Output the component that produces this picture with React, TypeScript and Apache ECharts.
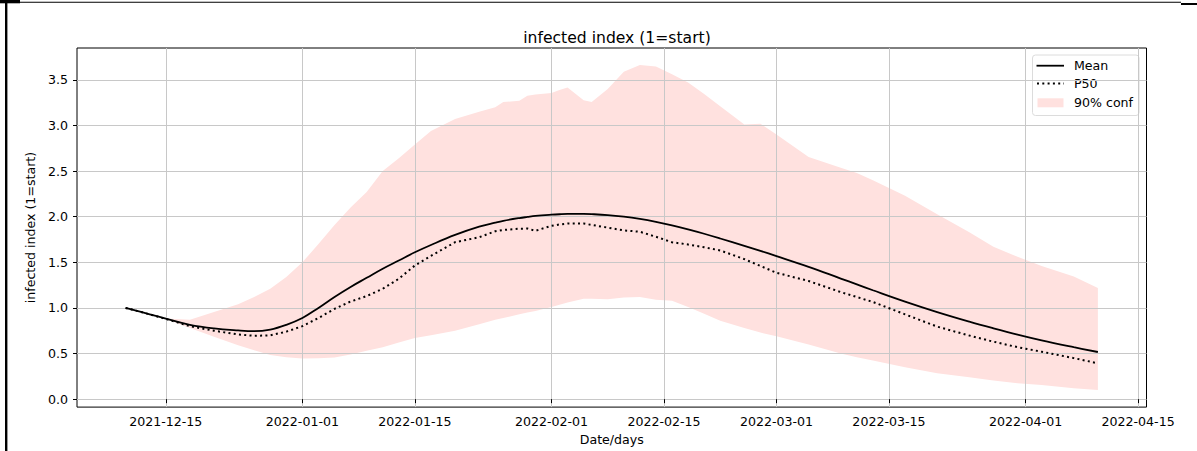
import React, { useEffect, useRef } from 'react';
import * as echarts from 'echarts';

// ---- data ----
const dates = [
  '2021-12-10', '2021-12-13', '2021-12-15', '2021-12-18', '2021-12-21', '2021-12-24', '2021-12-26', '2021-12-28',
  '2021-12-30', '2022-01-01', '2022-01-03', '2022-01-05', '2022-01-07', '2022-01-09', '2022-01-11', '2022-01-13',
  '2022-01-15', '2022-01-17', '2022-01-20', '2022-01-23', '2022-01-25', '2022-01-26', '2022-01-28', '2022-01-29',
  '2022-01-30', '2022-02-01', '2022-02-02', '2022-02-03', '2022-02-05', '2022-02-06', '2022-02-08', '2022-02-10',
  '2022-02-12', '2022-02-14', '2022-02-16', '2022-02-18', '2022-02-20', '2022-02-22', '2022-02-25', '2022-02-27',
  '2022-03-01', '2022-03-05', '2022-03-09', '2022-03-11', '2022-03-13', '2022-03-17', '2022-03-21', '2022-03-25',
  '2022-03-28', '2022-03-31', '2022-04-03', '2022-04-07', '2022-04-10',
];

const meanValues = [
  1.0, 0.93, 0.883, 0.815, 0.775, 0.753, 0.745, 0.763,
  0.815, 0.89, 1.0, 1.12, 1.23, 1.33, 1.43, 1.52,
  1.61, 1.69, 1.8, 1.89, 1.935, 1.955, 1.985, 1.997,
  2.008, 2.022, 2.027, 2.03, 2.03, 2.028, 2.018, 2.0,
  1.975, 1.943, 1.905, 1.861, 1.813, 1.761, 1.68, 1.625,
  1.568, 1.45, 1.322, 1.258, 1.194, 1.07, 0.955, 0.85,
  0.777, 0.708, 0.645, 0.57, 0.517,
];

const p50Values = [
  1.0, 0.93, 0.88, 0.8, 0.75, 0.71, 0.694, 0.7,
  0.74, 0.8, 0.89, 0.99, 1.07, 1.13, 1.21, 1.32,
  1.465, 1.57, 1.72, 1.775, 1.84, 1.855, 1.868, 1.87,
  1.846, 1.9, 1.915, 1.925, 1.925, 1.91, 1.88, 1.85,
  1.835, 1.78, 1.72, 1.695, 1.665, 1.63, 1.535, 1.46,
  1.385, 1.295, 1.174, 1.12, 1.065, 0.93, 0.795, 0.697,
  0.63, 0.57, 0.52, 0.45, 0.393,
];

const confLower = [
  1.0, 0.935, 0.88, 0.78, 0.685, 0.59, 0.535, 0.483,
  0.46, 0.447, 0.448, 0.458, 0.49, 0.53, 0.57, 0.62,
  0.67, 0.7, 0.75, 0.82, 0.87, 0.89, 0.93, 0.95,
  0.965, 1.01, 1.035, 1.06, 1.1, 1.1, 1.094, 1.115,
  1.12, 1.09, 1.08, 1.01, 0.935, 0.86, 0.78, 0.73,
  0.69, 0.6, 0.5, 0.46, 0.425, 0.35, 0.284, 0.24,
  0.205, 0.175, 0.155, 0.12, 0.1,
];

const confUpper = [
  1.0, 0.935, 0.885, 0.87, 0.955, 1.04, 1.12, 1.21,
  1.34, 1.5, 1.7, 1.91, 2.1, 2.27, 2.5, 2.64,
  2.79, 2.94, 3.07, 3.15, 3.2, 3.257, 3.27, 3.325,
  3.34, 3.355, 3.39, 3.416, 3.275, 3.257, 3.4, 3.59,
  3.664, 3.645, 3.56, 3.47, 3.345, 3.21, 3.01, 3.02,
  2.9, 2.655, 2.537, 2.48, 2.4, 2.23, 2.028, 1.83,
  1.67, 1.56, 1.46, 1.345, 1.218,
];

const xTickDates = [
  '2021-12-15', '2022-01-01', '2022-01-15', '2022-02-01', '2022-02-15',
  '2022-03-01', '2022-03-15', '2022-04-01', '2022-04-15',
];
const yTicks = [0, 0.5, 1.0, 1.5, 2.0, 2.5, 3.0, 3.5];

const titleText = 'infected index (1=start)';
const yAxisTitle = 'infected index (1=start)';
const xAxisTitle = 'Date/days';
const legendNames = ['Mean', 'P50', '90% conf'];

// ---- helpers ----
const toTs = (s: string) => {
  const [y, m, d] = s.split('-').map(Number);
  return Date.UTC(y, m - 1, d);
};
const fmtDate = (v: number) => new Date(v).toISOString().slice(0, 10);

const FONT = 'DejaVu Sans';
const BAND = '#ffe1df';
const FS = 12.6;

export default function App() {
  const ref = useRef<HTMLDivElement>(null);

  useEffect(() => {
    if (!ref.current) return;
    const chart = echarts.init(ref.current, undefined, { renderer: 'svg' });
    const ts = dates.map(toTs);
    const first = ts[0];
    const last = ts[ts.length - 1];
    const pad = (last - first) * 0.05;

    const meanData = ts.map((t, i) => [t, meanValues[i]]);
    const p50Data = ts.map((t, i) => [t, p50Values[i]]);

    const legendX = 1032.5;
    const legendY = 55;

    const option: any = {
      animation: false,
      backgroundColor: '#ffffff',
      textStyle: { fontFamily: FONT },
      title: {
        text: titleText,
        left: 612,
        top: 25,
        textAlign: 'center',
        textStyle: { fontFamily: FONT, fontSize: 15.6, fontWeight: 'normal', color: '#000' },
      },
      grid: {
        left: 77,
        top: 48,
        right: 50.5,
        bottom: 42,
        show: true,
        borderColor: '#000',
        borderWidth: 1,
        backgroundColor: 'transparent',
        containLabel: false,
      },
      xAxis: {
        type: 'value',
        min: first - pad,
        max: last + pad,
        name: xAxisTitle,
        nameLocation: 'middle',
        nameGap: 24,
        nameTextStyle: { fontFamily: FONT, fontSize: FS, color: '#000' },
        axisLine: { show: false },
        axisTick: {
          show: true,
          length: 4,
          lineStyle: { color: '#000', width: 1 },
          customValues: xTickDates.map(toTs),
        },
        axisLabel: {
          show: true,
          margin: 8,
          fontFamily: FONT,
          fontSize: FS,
          color: '#000',
          customValues: xTickDates.map(toTs),
          formatter: (v: number) => fmtDate(v),
        },
        splitLine: { show: true, lineStyle: { color: '#c8c8c8', width: 1 } },
      },
      yAxis: {
        type: 'value',
        min: -0.087,
        max: 3.849,
        name: yAxisTitle,
        nameLocation: 'middle',
        nameGap: 35,
        nameTextStyle: { fontFamily: FONT, fontSize: FS, color: '#000' },
        axisLine: { show: false },
        axisTick: {
          show: true,
          length: 4,
          lineStyle: { color: '#000', width: 1 },
          customValues: yTicks,
        },
        axisLabel: {
          show: true,
          margin: 9,
          fontFamily: FONT,
          fontSize: FS,
          color: '#000',
          customValues: yTicks,
          formatter: (v: number) => v.toFixed(1),
        },
        splitLine: { show: true, lineStyle: { color: '#c8c8c8', width: 1 } },
      },
      series: [
        {
          name: legendNames[2],
          type: 'custom',
          z: -1,
          silent: true,
          clip: true,
          data: [[first, confUpper[0]]],
          renderItem: (_params: any, api: any) => {
            const up = ts.map((t, i) => api.coord([t, confUpper[i]]));
            const lo = ts.map((t, i) => api.coord([t, confLower[i]])).reverse();
            return {
              type: 'polygon',
              shape: { points: up.concat(lo) },
              style: { fill: BAND, stroke: 'none' },
            };
          },
        },
        {
          name: legendNames[1],
          type: 'line',
          data: p50Data,
          symbol: 'none',
          z: 2,
          lineStyle: { color: '#000', width: 2, type: [2, 3.3] },
        },
        {
          name: legendNames[0],
          type: 'line',
          data: meanData,
          symbol: 'none',
          smooth: 0.4,
          z: 3,
          lineStyle: { color: '#000', width: 1.8 },
        },
      ],
      graphic: [
        // outer page frame fragments
        { type: 'rect', shape: { x: 0, y: 0, width: 20, height: 3.3 }, style: { fill: '#000' }, silent: true },
        { type: 'rect', shape: { x: 20, y: 1.8, width: 1161, height: 1 }, style: { fill: '#000' }, silent: true },
        { type: 'rect', shape: { x: 1181, y: 3, width: 16, height: 2 }, style: { fill: '#000' }, silent: true },
        { type: 'rect', shape: { x: 5, y: 0, width: 2.4, height: 451 }, style: { fill: '#000' }, silent: true },
        // legend
        {
          type: 'group',
          x: legendX,
          y: legendY,
          z: 10,
          children: [
            {
              type: 'rect',
              shape: { x: 0, y: 0, width: 106.5, height: 60.5, r: 3 },
              style: { fill: 'rgba(255,255,255,0.8)', stroke: '#dcdcdc', lineWidth: 1 },
            },
            {
              type: 'line',
              shape: { x1: 4, y1: 10.7, x2: 31.5, y2: 10.7 },
              style: { stroke: '#000', lineWidth: 1.8 },
            },
            {
              type: 'line',
              shape: { x1: 4.5, y1: 28.5, x2: 31.5, y2: 28.5 },
              style: { stroke: '#000', lineWidth: 2, lineDash: [2, 3.3] },
            },
            {
              type: 'rect',
              shape: { x: 5, y: 43.3, width: 26, height: 9 },
              style: { fill: BAND },
            },
            {
              type: 'text',
              x: 41.5,
              y: 10.7,
              style: { text: legendNames[0], fontFamily: FONT, fontSize: FS, fill: '#000', verticalAlign: 'middle' },
            },
            {
              type: 'text',
              x: 41.5,
              y: 28.8,
              style: { text: legendNames[1], fontFamily: FONT, fontSize: FS, fill: '#000', verticalAlign: 'middle' },
            },
            {
              type: 'text',
              x: 41.5,
              y: 47.8,
              style: { text: legendNames[2], fontFamily: FONT, fontSize: FS, fill: '#000', verticalAlign: 'middle' },
            },
          ],
        },
      ],
    };

    chart.setOption(option);
    return () => chart.dispose();
  }, []);

  return (
    <div
      ref={ref}
      style={{ position: 'fixed', left: 0, top: 0, width: 1197, height: 451, background: '#fff' }}
    />
  );
}
